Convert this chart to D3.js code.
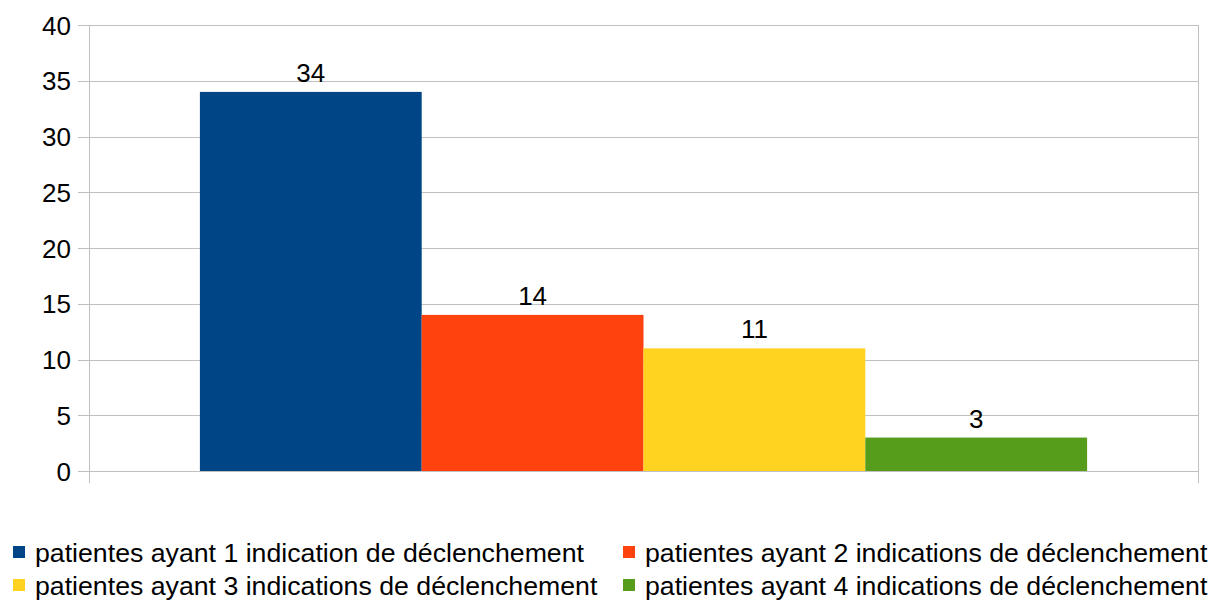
<html>
<head>
<meta charset="UTF-8">
<title>Indications de déclenchement</title>
<script src="https://d3js.org/d3.v7.min.js"></script>
<style>
    body { margin: 0; background: #fff; font-family: 'Liberation Sans', Arial, sans-serif; }
    #chart svg { display: block; }
</style>
</head>
<body>
<div id="chart"></div>
<script>
// data
var categories = ["patientes ayant 1 indication de déclenchement",
                  "patientes ayant 2 indications de déclenchement",
                  "patientes ayant 3 indications de déclenchement",
                  "patientes ayant 4 indications de déclenchement"];
var values = [34, 14, 11, 3];
var colors = ["#004586", "#ff420e", "#ffd320", "#579d1c"];
var yTicks = [0, 5, 10, 15, 20, 25, 30, 35, 40];

var width = 1213, height = 603;
var plot = { left: 89, right: 1198, top: 25, bottom: 471 };
var fontSize = 26;

var svg = d3.select('#chart').append('svg')
    .attr('width', width)
    .attr('height', height);

var y = d3.scaleLinear().domain([0, 40]).range([plot.bottom, plot.top]);

// one category group, the 4 series share 80% of its width
var outer = d3.scaleBand().domain(["g"]).range([plot.left, plot.right]).paddingInner(0).paddingOuter(0);
var inner = d3.scaleBand().domain(d3.range(values.length))
    .range([plot.left + outer.bandwidth() * 0.1, plot.left + outer.bandwidth() * 0.9])
    .padding(0);

// grid lines
svg.append('g').selectAll('line').data(yTicks).enter().append('line')
    .attr('x1', plot.left - 11).attr('x2', plot.right)
    .attr('y1', function(d) { return Math.round(y(d)) + 0.5; })
    .attr('y2', function(d) { return Math.round(y(d)) + 0.5; })
    .attr('stroke', '#c0c0c0').attr('stroke-width', 1);

// y axis labels
var yAxis = d3.axisLeft(y).tickValues(yTicks).tickSize(0).tickPadding(0);
var ya = svg.append('g').attr('transform', 'translate(71,0)').call(yAxis)
    .attr('font-size', fontSize)
    .attr('font-family', "'Liberation Sans', Arial, sans-serif");
ya.select('.domain').remove();
ya.selectAll('text')
    .attr('fill', '#000')
    .attr('dy', '0.35em');

// bars
svg.append('g').selectAll('rect').data(values).enter().append('rect')
    .attr('x', function(d, i) { return inner(i); })
    .attr('width', inner.bandwidth())
    .attr('y', function(d) { return y(d); })
    .attr('height', function(d) { return plot.bottom - y(d); })
    .attr('fill', function(d, i) { return colors[i]; });

// value labels
svg.append('g').selectAll('text').data(values).enter().append('text')
    .attr('x', function(d, i) { return inner(i) + inner.bandwidth() / 2; })
    .attr('y', function(d) { return y(d) - 10; })
    .attr('text-anchor', 'middle')
    .style('font-size', fontSize + 'px')
    .attr('fill', '#000')
    .text(function(d) { return d; });

// axis frame: left, right, and the end ticks below 0
[plot.left, plot.right].forEach(function(xv) {
    svg.append('line')
        .attr('x1', xv + 0.5).attr('x2', xv + 0.5)
        .attr('y1', plot.top).attr('y2', plot.bottom + 12)
        .attr('stroke', '#c0c0c0').attr('stroke-width', 1);
});

// legend, 2 columns
var legend = svg.append('g').selectAll('g').data(categories).enter().append('g')
    .attr('transform', function(d, i) {
        var col = i % 2, row = Math.floor(i / 2);
        return 'translate(' + (col === 0 ? 13 : 623) + ',' + (546 + row * 33) + ')';
    });
legend.append('rect')
    .attr('width', 12).attr('height', 12)
    .attr('fill', function(d, i) { return colors[i]; });
legend.append('text')
    .attr('x', 22).attr('y', 16)
    .style('font-size', '26.7px')
    .attr('fill', '#000')
    .text(function(d) { return d; });
</script>
</body>
</html>
